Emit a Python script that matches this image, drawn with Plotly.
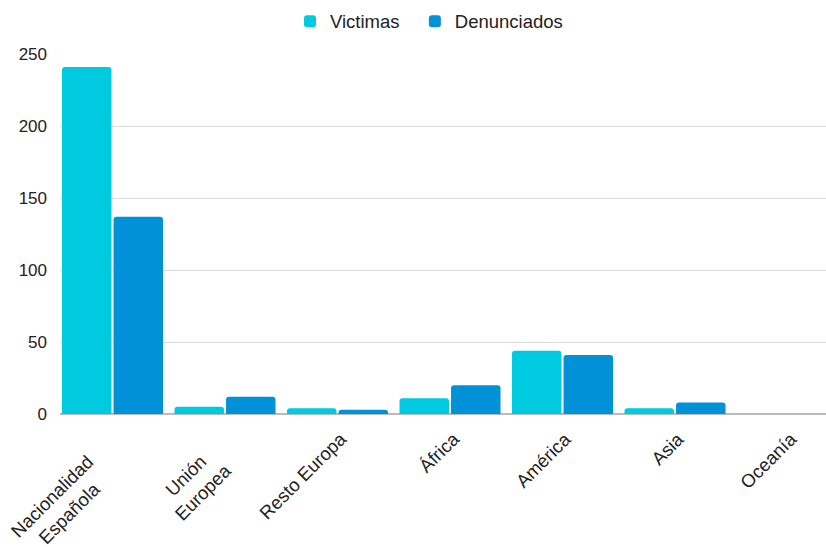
import plotly.graph_objects as go

categories = ["Nacionalidad<br>Española", "Unión<br>Europea", "Resto Europa",
              "África", "América", "Asia", "Oceanía"]
victimas = [241, 5, 4, 11, 44, 4, 0]
denunciados = [137, 12, 3, 20, 41, 8, 0]

fig = go.Figure()
# trailing no-break spaces widen the first legend entry to match the gap
fig.add_trace(go.Bar(x=categories, y=victimas, name="Victimas\u00a0\u00a0",
                     marker=dict(color="#00CADF", line=dict(width=0))))
fig.add_trace(go.Bar(x=categories, y=denunciados, name="Denunciados",
                     marker=dict(color="#0091D6", line=dict(width=0))))

# category labels drawn as rotated annotations: first line end stays fixed,
# following lines are centred on it
for cat in categories:
    lines = cat.split("<br>")
    extra = len(lines) - 1
    s = (max(len(t) for t in lines) - len(lines[0])) * 12 / 2 * 0.707
    fig.add_annotation(x=cat, xref="x", y=0, yref="paper", text=cat,
                       textangle=-45, align="center", showarrow=False,
                       xanchor="right", yanchor="top",
                       xshift=16 - 11 * extra + s, yshift=-11 - 23 * extra + s,
                       font=dict(size=18.5, color="#222222"))

fig.update_layout(
    width=826, height=547,
    margin=dict(l=60, r=0, t=54, b=133),
    paper_bgcolor="white", plot_bgcolor="white",
    font=dict(family="Liberation Sans, Arial, sans-serif", size=17, color="#222222"),
    barmode="group", bargap=0.084, bargroupgap=0.04, barcornerradius=3,
    legend=dict(orientation="h", yref="container", xref="container",
                x=290 / 826, xanchor="left", y=0.995, yanchor="top",
                font=dict(size=18.5), itemwidth=30, traceorder="normal"),
    xaxis=dict(range=[-0.4667, 6.342], showgrid=False, showline=False, ticks="",
               showticklabels=False, automargin=False, fixedrange=True),
    yaxis=dict(range=[0, 250], dtick=50, showgrid=True, gridcolor="#dddddd",
               zeroline=True, zerolinecolor="#bbbbbb", zerolinewidth=2,
               showline=False, ticks="", automargin=False, fixedrange=True,
               tickfont=dict(size=17), ticklabelstandoff=12),
)

fig.write_html("out.html", post_script="document.body.style.margin='0';",
               config={"displayModeBar": False})
